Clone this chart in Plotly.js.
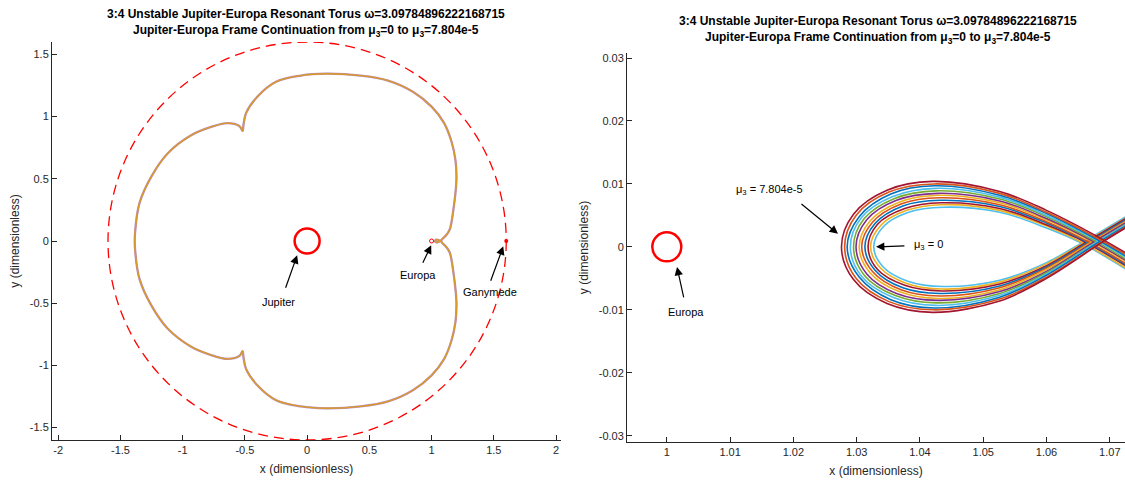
<!DOCTYPE html>
<html>
<head>
<meta charset="utf-8">
<script src="https://cdn.plot.ly/plotly-3.0.1.min.js"></script>
<style>html,body{margin:0;padding:0;background:#fff;}#chart{width:1125px;height:485px;}</style>
</head>
<body>
<div id="chart"></div>
<script>
// ---------- data ----------
// Right panel: 12 continuation curves, index 0 = inner (mu3 = 0) ... 11 = outer (mu3 = 7.804e-5)
const curveColors = ['#4DBEEE','#EDB120','#A2142F','#0072BD','#D95319','#EDB120','#7E2F8E','#77AC30','#4DBEEE','#0072BD','#D95319','#A2142F'];
const tipX   = [1.0327,1.0322,1.0318,1.0313,1.0308,1.0304,1.0299,1.0295,1.0290,1.0285,1.0281,1.0276];
const x150   = [1.0342,1.0338,1.0333,1.0329,1.0325,1.0321,1.0316,1.0312,1.0308,1.0304,1.0299,1.0295];
const y150   = [0.0032,0.0034,0.0036,0.0037,0.0039,0.0041,0.0043,0.0045,0.0047,0.0048,0.0050,0.0052];
const x120   = [1.0382,1.0379,1.0376,1.0373,1.0370,1.0367,1.0363,1.0360,1.0357,1.0354,1.0351,1.0348];
const y120   = [0.0055,0.0058,0.0061,0.0065,0.0068,0.0071,0.0074,0.0077,0.0080,0.0084,0.0087,0.0090];
const topX   = [1.0437,1.0435,1.0434,1.0432,1.0431,1.0429,1.0428,1.0426,1.0425,1.0423,1.0422,1.0420];
const topY   = [0.0063,0.0067,0.0070,0.0074,0.0078,0.0082,0.0085,0.0089,0.0093,0.0097,0.0100,0.0104];
const sampleX = [1.0526, 1.0600];                  // x positions where both branches were read
const upY1   = [0.0055,0.0058,0.0061,0.0064,0.0067,0.0070,0.0073,0.0076,0.0079,0.0082,0.0085,0.0088];
const upY2   = [0.0030,0.0033,0.0035,0.0038,0.0040,0.0043,0.0045,0.0048,0.0050,0.0053,0.0055,0.0058];
const loY1   = [-0.0053,-0.0056,-0.0059,-0.0062,-0.0065,-0.0068,-0.0071,-0.0074,-0.0077,-0.0080,-0.0083,-0.0086];
const loY2   = [-0.0025,-0.0027,-0.0030,-0.0032,-0.0034,-0.0036,-0.0039,-0.0041,-0.0043,-0.0045,-0.0048,-0.0050];
const crossX = [1.0655,1.0658,1.0662,1.0665,1.0668,1.0672,1.0675,1.0679,1.0682,1.0685,1.0689,1.0692];
const crossY = [0.0006,0.0006,0.0007,0.0007,0.0007,0.0008,0.0008,0.0008,0.0009,0.0009,0.0009,0.0010];
const exitX  = 1.076;
const exitUpY = [0.0069,0.0067,0.0066,0.0064,0.0062,0.0061,0.0059,0.0057,0.0056,0.0054,0.0053,0.0051];
const exitLoY = [-0.0057,-0.0055,-0.0052,-0.0050,-0.0048,-0.0045,-0.0043,-0.0041,-0.0038,-0.0036,-0.0033,-0.0031];

// Left panel: global torus orbit (outside the small loop near Europa)
const orbitX = [1.090,1.120,1.145,1.160,1.175,1.188,1.200,1.192,1.160,1.100,1.000,0.850,0.650,0.430,0.150,-0.050,-0.250,-0.400,-0.490,-0.512,-0.518,-0.545,-0.640,-0.771,-0.932,-1.119,-1.253,-1.347,-1.383,-1.383,-1.347,-1.253,-1.119,-0.932,-0.771,-0.640,-0.545,-0.518,-0.512,-0.490,-0.400,-0.250,-0.050,0.150,0.430,0.650,0.850,1.000,1.100,1.160,1.192,1.200,1.188,1.175,1.160,1.145,1.120,1.090];
const orbitY = [-0.020,-0.050,-0.090,-0.150,-0.250,-0.350,-0.500,-0.650,-0.800,-0.950,-1.080,-1.200,-1.290,-1.330,-1.345,-1.330,-1.280,-1.160,-1.030,-0.930,-0.885,-0.925,-0.948,-0.917,-0.850,-0.706,-0.516,-0.305,-0.060,0.060,0.305,0.516,0.706,0.850,0.917,0.948,0.925,0.885,0.930,1.030,1.160,1.280,1.330,1.345,1.330,1.290,1.200,1.080,0.950,0.800,0.650,0.500,0.350,0.250,0.150,0.090,0.050,0.020];

const ganymedeOrbitR = 1.6;
const bodyNames = ['Jupiter','Europa','Ganymede'];
const bodyX = [0, 1, 1.6];
const bodyY = [0, 0, 0];

const leftXTicks = [-2,-1.5,-1,-0.5,0,0.5,1,1.5,2];
const leftXText  = ['-2','-1.5','-1','-0.5','0','0.5','1','1.5','2'];
const leftYTicks = [-1.5,-1,-0.5,0,0.5,1,1.5];
const leftYText  = ['-1.5','-1','-0.5','0','0.5','1','1.5'];
const rightXTicks = [1,1.01,1.02,1.03,1.04,1.05,1.06,1.07];
const rightXText  = ['1','1.01','1.02','1.03','1.04','1.05','1.06','1.07'];
const rightYTicks = [-0.03,-0.02,-0.01,0,0.01,0.02,0.03];
const rightYText  = ['-0.03','-0.02','-0.01','0','0.01','0.02','0.03'];

const titleLine1 = '3:4 Unstable Jupiter-Europa Resonant Torus ω=3.09784896222168715';
const titleLine2 = 'Jupiter-Europa Frame Continuation from μ<sub>3</sub>=0 to μ<sub>3</sub>=7.804e-5';

// ---------- build curves ----------
function loopCurve(k){
  const xs = [exitX, crossX[k], sampleX[1], sampleX[0], topX[k], x120[k], x150[k], tipX[k],
              x150[k], x120[k], topX[k], sampleX[0], sampleX[1], crossX[k], exitX];
  const ys = [exitUpY[k], crossY[k], loY2[k], loY1[k], -topY[k], -y120[k], -y150[k], 0,
              y150[k], y120[k], topY[k], upY1[k], upY2[k], crossY[k], exitLoY[k]];
  return {xs, ys};
}

const FONT = '"Liberation Sans", Arial, Helvetica, sans-serif';
const traces = [];
const outer = loopCurve(11);
const leftX = outer.xs.concat(orbitX, [outer.xs[0]]);
const leftY = outer.ys.concat(orbitY, [outer.ys[0]]);
traces.push({x:leftX, y:leftY, xaxis:'x', yaxis:'y', mode:'lines', line:{color:'#7E2F8E', width:2.3, shape:'spline', smoothing:1}, opacity:0.55, hoverinfo:'skip'});
traces.push({x:leftX, y:leftY, xaxis:'x', yaxis:'y', mode:'lines', line:{color:'#D99A26', width:1.4, shape:'spline', smoothing:1}, hoverinfo:'skip'});
// bodies on the left panel
traces.push({x:[bodyX[0]], y:[bodyY[0]], xaxis:'x', yaxis:'y', mode:'markers', marker:{symbol:'circle-open', size:25, color:'#FF0000', line:{width:2.5, color:'#FF0000'}}, hoverinfo:'skip'});
traces.push({x:[bodyX[1]], y:[bodyY[1]], xaxis:'x', yaxis:'y', mode:'markers', marker:{symbol:'circle-open', size:4, color:'#FF0000', line:{width:1, color:'#FF0000'}}, hoverinfo:'skip'});
traces.push({x:[bodyX[2]], y:[bodyY[2]], xaxis:'x', yaxis:'y', mode:'markers', marker:{symbol:'circle', size:4, color:'#FF0000'}, hoverinfo:'skip'});

for (let k = 0; k < curveColors.length; k++){
  const c = loopCurve(k);
  traces.push({x:c.xs, y:c.ys, xaxis:'x2', yaxis:'y2', mode:'lines', line:{color:curveColors[k], width:1.6, shape:'spline', smoothing:1}, hoverinfo:'skip'});
}
traces.push({x:[bodyX[1]], y:[bodyY[1]], xaxis:'x2', yaxis:'y2', mode:'markers', marker:{symbol:'circle-open', size:29, color:'#FF0000', line:{width:2.5, color:'#FF0000'}}, hoverinfo:'skip'});

function axisBase(){
  return {showgrid:false, zeroline:false, showline:true, linecolor:'#262626', linewidth:1,
          ticks:'inside', ticklen:5, tickcolor:'#262626', tickmode:'array', mirror:false,
          tickfont:{family:FONT, size:11, color:'#262626'}, fixedrange:true};
}

const W = 1125, H = 485;
const layout = {
  width:W, height:H, margin:{l:0,r:0,t:0,b:0}, paper_bgcolor:'#fff', plot_bgcolor:'#fff',
  showlegend:false, font:{family:FONT, color:'#262626'},
  xaxis:Object.assign(axisBase(), {domain:[52/W, 561/W], range:[-2.05, 2.04], tickvals:leftXTicks, ticktext:leftXText, anchor:'y',
        title:{text:'x (dimensionless)', font:{family:FONT, size:12, color:'#262626'}, standoff:9}}),
  yaxis:Object.assign(axisBase(), {domain:[(H-440)/H, (H-42)/H], range:[-1.6, 1.6], tickvals:leftYTicks, ticktext:leftYText, anchor:'x',
        title:{text:'y (dimensionless)', font:{family:FONT, size:12, color:'#262626'}, standoff:7}}),
  xaxis2:Object.assign(axisBase(), {domain:[627/W, 1], range:[0.99371, 1.0724], tickvals:rightXTicks, ticktext:rightXText, anchor:'y2',
        title:{text:'x (dimensionless)', font:{family:FONT, size:12, color:'#262626'}, standoff:9}}),
  yaxis2:Object.assign(axisBase(), {domain:[(H-442)/H, (H-53)/H], range:[-0.031, 0.0308], tickvals:rightYTicks, ticktext:rightYText, anchor:'x2',
        title:{text:'y (dimensionless)', font:{family:FONT, size:12, color:'#262626'}, standoff:7}}),
  shapes:[{type:'circle', xref:'x', yref:'y', x0:-ganymedeOrbitR, y0:-ganymedeOrbitR, x1:ganymedeOrbitR, y1:ganymedeOrbitR,
           line:{color:'#FF0000', width:1.3, dash:'10px,6px'}, layer:'below'}],
  annotations:[]
};

function title(xc, y1, y2){
  layout.annotations.push({xref:'paper', yref:'paper', x:xc/W, y:1-y1/H, xanchor:'center', yanchor:'middle', showarrow:false,
    text:'<b>'+titleLine1+'</b>', font:{family:FONT, size:12, color:'#000'}});
  layout.annotations.push({xref:'paper', yref:'paper', x:xc/W, y:1-y2/H, xanchor:'center', yanchor:'middle', showarrow:false,
    text:'<b>'+titleLine2+'</b>', font:{family:FONT, size:12, color:'#000'}});
}
title(306, 14, 31);
title(878, 21, 38);

function arrow(xr, yr, hx, hy, tx, ty){
  layout.annotations.push({xref:xr, yref:yr, x:hx, y:hy, axref:xr, ayref:yr, ax:tx, ay:ty, text:'', showarrow:true,
    arrowhead:2, arrowsize:1.4, arrowwidth:1.2, arrowcolor:'#000', standoff:0, startstandoff:0});
}
function label(xr, yr, x, y, text, anchor){
  layout.annotations.push({xref:xr, yref:yr, x:x, y:y, text:text, showarrow:false, xanchor:anchor||'center', yanchor:'middle',
    font:{family:FONT, size:11, color:'#000'}});
}
// left panel labels
arrow('x','y', -0.080, -0.115, -0.177, -0.388); label('x','y', -0.233, -0.494, bodyNames[0]);
arrow('x','y',  0.997, -0.035,  0.924, -0.187); label('x','y',  0.892, -0.276, bodyNames[1]);
arrow('x','y',  1.576, -0.043,  1.471, -0.332); label('x','y',  1.471, -0.413, bodyNames[2]);
// right panel labels
arrow('x2','y2', 1.02705, 0.00207, 1.02104, 0.0070); label('x2','y2', 1.01627, 0.00906, 'μ<sub>3</sub> = 7.804e-5');
arrow('x2','y2', 1.03305, 0.0, 1.03778, 0.00016);    label('x2','y2', 1.03880, 0.0003, 'μ<sub>3</sub> = 0', 'left');
arrow('x2','y2', 1.00161, -0.00318, 1.00272, -0.00827); label('x2','y2', 1.00304, -0.01033, bodyNames[1]);

Plotly.newPlot('chart', traces, layout, {staticPlot:true, displayModeBar:false});
</script>
</body>
</html>
